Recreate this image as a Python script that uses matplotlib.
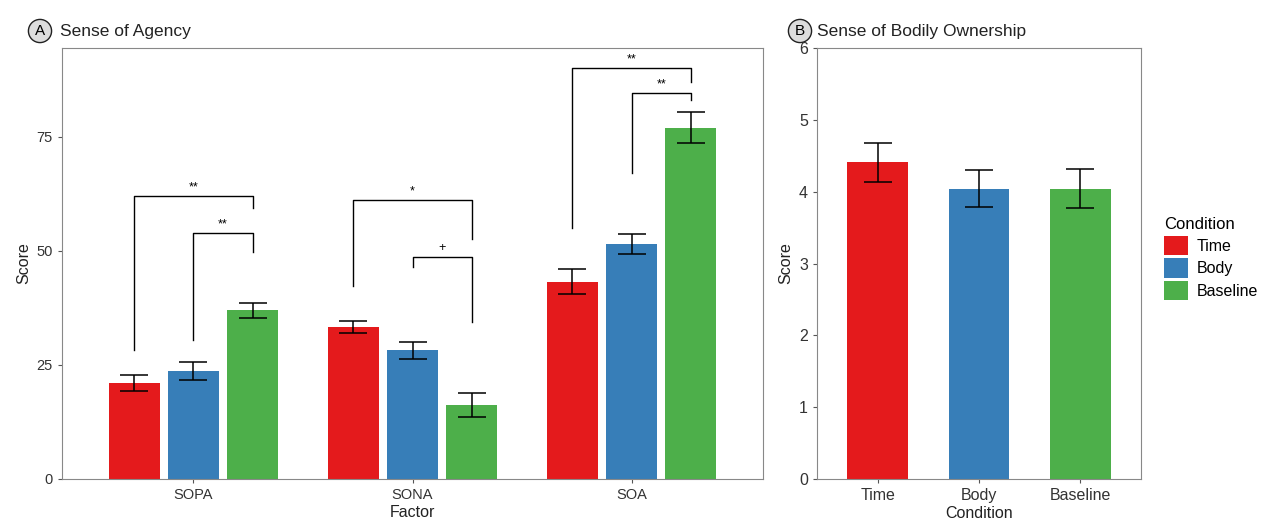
import matplotlib
matplotlib.use("Agg")
import matplotlib.pyplot as plt
import numpy as np

plt.rcParams['font.family'] = ['Liberation Sans', 'DejaVu Sans']

# ---- data ----
factors = ["SOPA", "SONA", "SOA"]
conditions = ["Time", "Body", "Baseline"]
colors = ["#E41A1C", "#377EB8", "#4DAF4A"]

agency_time = [21.0, 33.3, 43.3]
agency_body = [23.7, 28.2, 51.5]
agency_base = [37.0, 16.2, 77.0]
agency_time_se = [1.8, 1.3, 2.7]
agency_body_se = [1.9, 1.8, 2.2]
agency_base_se = [1.6, 2.6, 3.4]

own_vals = [4.41, 4.04, 4.04]
own_se = [0.27, 0.26, 0.27]

# brackets: factor index, cond left, cond right, bar height, left tip end, right tip end, label
br_factor = [0, 0, 1, 1, 2, 2]
br_c1 = [0, 1, 0, 1, 0, 1]
br_c2 = [2, 2, 2, 2, 2, 2]
br_y = [62.1, 53.9, 61.2, 48.7, 90.1, 84.6]
br_y1 = [28.3, 30.5, 42.3, 46.5, 55.0, 67.1]
br_y2 = [59.4, 49.8, 52.6, 34.4, 87.1, 83.1]
br_lab = ["**", "**", "*", "+", "**", "**"]

W, H = 1273, 522
fig = plt.figure(figsize=(W / 100, H / 100), dpi=100)

def px_axes(l, t, r, b):
    return fig.add_axes([l / W, 1 - b / H, (r - l) / W, (b - t) / H])

def style(ax):
    for s in ax.spines.values():
        s.set_color("#888888")
        s.set_linewidth(0.8)
    ax.tick_params(axis="both", colors="#555555", length=3, width=0.8,
                   labelcolor="#333333", labelsize=10.5)

# ---- panel A ----
axA = px_axes(62, 48, 763, 479)
step = 0.27
bw = 0.232
x = np.arange(1, len(factors) + 1)
series = [agency_time, agency_body, agency_base]
ses = [agency_time_se, agency_body_se, agency_base_se]
for i in range(3):
    xs = x + (i - 1) * step
    axA.bar(xs, series[i], width=bw, color=colors[i], zorder=2)
    axA.errorbar(xs, series[i], yerr=ses[i], fmt="none", ecolor="black",
                 elinewidth=1.1, capsize=10, capthick=1.1, zorder=3)
for f, c1, c2, y, y1, y2, lab in zip(br_factor, br_c1, br_c2, br_y, br_y1, br_y2, br_lab):
    xa = x[f] + (c1 - 1) * step
    xb = x[f] + (c2 - 1) * step
    axA.plot([xa, xa, xb, xb], [y1, y, y, y2], color="black", lw=1.0, zorder=4)
    axA.text((xa + xb) / 2, y + 0.6, lab, ha="center", va="bottom", fontsize=9)
axA.set_xlim(0.4, 3.6)
axA.set_ylim(0, 94.5)
axA.set_yticks([0, 25, 50, 75])
axA.set_xticks(x)
axA.set_xticklabels(factors)
axA.set_xlabel("Factor", fontsize=11.5, color="#222222", labelpad=2)
axA.set_ylabel("Score", fontsize=11.5, color="#222222", labelpad=4)
style(axA)

# ---- panel B ----
axB = px_axes(817, 48, 1141, 479)
xb_ = np.arange(1, 4)
axB.bar(xb_, own_vals, width=0.6, color=colors, zorder=2)
axB.errorbar(xb_, own_vals, yerr=own_se, fmt="none", ecolor="black",
             elinewidth=1.1, capsize=10, capthick=1.1, zorder=3)
axB.set_xlim(0.4, 3.6)
axB.set_ylim(0, 6)
axB.set_yticks(range(0, 7))
axB.set_xticks(xb_)
axB.set_xticklabels(conditions)
axB.set_xlabel("Condition", fontsize=11.5, color="#222222", labelpad=2)
axB.set_ylabel("Score", fontsize=11.5, color="#222222", labelpad=4)
style(axB)
axB.tick_params(axis="x", labelsize=11.5)
axB.tick_params(axis="y", labelsize=11.5)

# legend
from matplotlib.patches import Patch
handles = [Patch(facecolor=c, edgecolor="none") for c in colors]
leg = fig.legend(handles, conditions, title="Condition", loc="upper left",
                 bbox_to_anchor=(1150 / W, 1 - 203 / H), frameon=False,
                 fontsize=11.5, title_fontsize=12, handlelength=1.5,
                 handleheight=1.5, handletextpad=0.5, labelspacing=0.2,
                 alignment="left")

# titles with circled letters
def title(xc, xt, y, letter, text):
    fig.text(xc / W, 1 - y / H, letter, ha="center", va="center", fontsize=11,
             bbox=dict(boxstyle="circle,pad=0.3", facecolor="#dddddd",
                       edgecolor="#222222", linewidth=1.0))
    fig.text(xt / W, 1 - y / H, text, ha="left", va="center", fontsize=12.5,
             color="#222222")

title(40, 60, 31, "A", "Sense of Agency")
title(800, 817, 31, "B", "Sense of Bodily Ownership")

fig.savefig("out.png", dpi=100, facecolor="white")
